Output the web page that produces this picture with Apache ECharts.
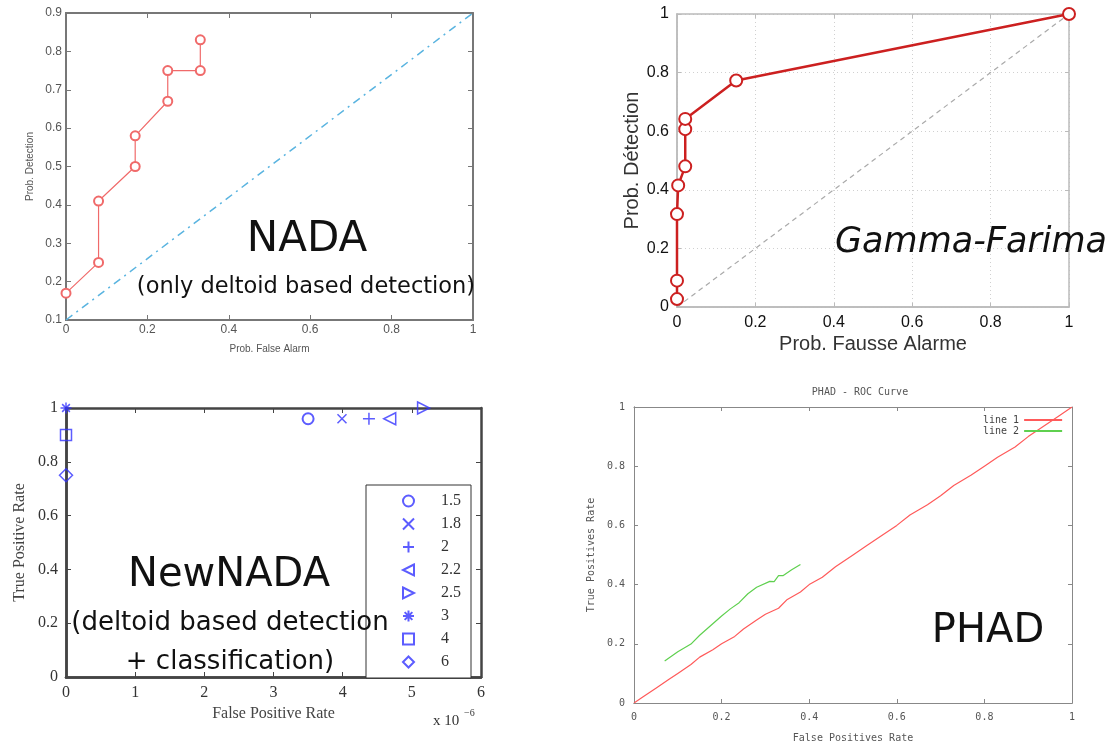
<!DOCTYPE html>
<html>
<head>
<meta charset="utf-8">
<script src="https://cdn.jsdelivr.net/npm/echarts@6/dist/echarts.min.js"></script>
<style>
  html, body { margin: 0; padding: 0; background: #fff; }
  #chart { width: 1119px; height: 744px; }
</style>
</head>
<body>
<div id="chart"></div>
<script>
// NADA (top-left)
const nadaFpr = [0, 0.08, 0.08, 0.17, 0.17, 0.25, 0.25, 0.33, 0.33];
const nadaTpr = [0.17, 0.25, 0.41, 0.5, 0.58, 0.67, 0.75, 0.75, 0.83];
const nadaRefX = [0, 1];
const nadaRefY = [0.1, 0.9];

// Gamma-Farima (top-right)
const gfFpr = [0, 0, 0, 0.003, 0.021, 0.021, 0.021, 0.151, 1];
const gfTpr = [0.027, 0.09, 0.317, 0.415, 0.48, 0.607, 0.642, 0.773, 1];
const gfRefX = [0, 1];
const gfRefY = [0, 1];

// NewNADA (bottom-left), x in units of 1e-6
const nnNames = ['1.5', '1.8', '2', '2.2', '2.5', '3', '4', '6'];
const nnFpr = [3.5, 3.99, 4.38, 4.68, 5.17, 0, 0, 0];
const nnTpr = [0.96, 0.96, 0.96, 0.96, 1.0, 1.0, 0.9, 0.75];

// PHAD (bottom-right)
const phad1X = [0, 0.02, 0.05, 0.08, 0.1, 0.13, 0.15, 0.18, 0.2, 0.23, 0.25, 0.28, 0.3, 0.33, 0.35, 0.38,
  0.4, 0.43, 0.46, 0.5, 0.53, 0.57, 0.6, 0.63, 0.67, 0.7, 0.73, 0.77, 0.8, 0.83, 0.87, 0.9, 0.93, 0.97, 1];
const phad1Y = [0, 0.02, 0.05, 0.08, 0.1, 0.13, 0.155, 0.18, 0.2, 0.225, 0.25, 0.28, 0.3, 0.32, 0.35, 0.375,
  0.4, 0.425, 0.46, 0.5, 0.53, 0.57, 0.6, 0.635, 0.67, 0.7, 0.735, 0.77, 0.8, 0.83, 0.865, 0.9, 0.93, 0.97, 1];
const phad2X = [0.07, 0.1, 0.13, 0.15, 0.2, 0.22, 0.24, 0.26, 0.28, 0.31, 0.32, 0.33, 0.34, 0.36, 0.38];
const phad2Y = [0.142, 0.173, 0.199, 0.229, 0.294, 0.318, 0.339, 0.369, 0.391, 0.411, 0.41, 0.43, 0.43, 0.45, 0.468];

const nnSymbols = [
  'emptyCircle',
  'path://M0,0L10,10M10,0L0,10',
  'path://M5,0L5,10M0,5L10,5',
  'path://M10,0L0,5L10,10Z',
  'path://M0,0L10,5L0,10Z',
  'path://M5,0L5,10M0,5L10,5M1.5,1.5L8.5,8.5M8.5,1.5L1.5,8.5',
  'path://M0,0L10,0L10,10L0,10Z',
  'path://M5,0L10,5L5,10L0,5Z'
];
const nnSizes = [11, 9, 12, 12, 12, 11, 11, 13];

const pairs = (xs, ys) => xs.map((x, i) => [x, ys[i]]);

const chart = echarts.init(document.getElementById('chart'));

// per grid: axis 0 = labelled data axis, 1 = same side ticks only, 2 = opposite side frame + ticks
function frameAxes(gi, cfg) {
  const line = { show: true, onZero: false, lineStyle: { color: cfg.frame, width: cfg.frameWidth } };
  const tick = { show: true, inside: true, length: cfg.tickLen, lineStyle: { color: cfg.frame, width: 1 } };
  const lab = { color: cfg.labelColor, fontSize: cfg.labelSize, fontFamily: cfg.font, margin: cfg.labelMargin };
  const nameStyle = { color: cfg.nameColor, fontSize: cfg.nameSize, fontFamily: cfg.font };
  const split = cfg.split ? { show: true, lineStyle: { color: '#d0d0d0', type: [1, 3] } } : { show: false };
  const plain = (dim, pos) => ({
    gridIndex: gi, type: 'value', position: pos,
    min: cfg[dim + 'Min'], max: cfg[dim + 'Max'], interval: cfg[dim + 'Int'],
    axisLine: line, axisTick: tick, axisLabel: { show: false }, splitLine: { show: false }
  });
  const main = (dim, pos) => Object.assign(plain(dim, pos), {
    axisTick: { show: false }, axisLabel: lab, splitLine: split,
    name: cfg[dim + 'Name'], nameLocation: 'middle', nameGap: cfg[dim + 'NameGap'], nameTextStyle: nameStyle
  });
  return {
    xs: [main('x', 'bottom'), plain('x', 'bottom'), plain('x', 'top')],
    ys: [main('y', 'left'), plain('y', 'left'), plain('y', 'right')]
  };
}

const panels = [
  frameAxes(0, { frame: '#777', frameWidth: 2, tickLen: 5, labelColor: '#555', labelSize: 12, font: 'Liberation Sans',
    labelMargin: 4, nameColor: '#555', nameSize: 10, xMin: 0, xMax: 1, xInt: 0.2, yMin: 0.1, yMax: 0.9, yInt: 0.1,
    xName: 'Prob. False Alarm', xNameGap: 24, yName: 'Prob. Detection', yNameGap: 31 }),
  frameAxes(1, { frame: '#bbb', frameWidth: 1.5, tickLen: 4, labelColor: '#111', labelSize: 16, font: 'Liberation Sans',
    labelMargin: 8, nameColor: '#333', nameSize: 20, xMin: 0, xMax: 1, xInt: 0.2, yMin: 0, yMax: 1, yInt: 0.2,
    split: true, xName: 'Prob. Fausse Alarme', xNameGap: 27, yName: 'Prob. Détection', yNameGap: 34 }),
  frameAxes(2, { frame: '#444', frameWidth: 2.5, tickLen: 5, labelColor: '#333', labelSize: 16, font: 'Liberation Serif',
    labelMargin: 8, nameColor: '#444', nameSize: 16, xMin: 0, xMax: 6, xInt: 1, yMin: 0, yMax: 1, yInt: 0.2,
    xName: 'False Positive Rate', xNameGap: 29, yName: 'True Positive Rate', yNameGap: 38 }),
  frameAxes(3, { frame: '#888', frameWidth: 1, tickLen: 4, labelColor: '#555', labelSize: 10, font: 'DejaVu Sans Mono',
    labelMargin: 9, nameColor: '#555', nameSize: 10, xMin: 0, xMax: 1, xInt: 0.2, yMin: 0, yMax: 1, yInt: 0.2,
    xName: 'False Positives Rate', xNameGap: 30, yName: 'True Positives Rate', yNameGap: 38 })
];

const xAxis = [].concat(...panels.map(p => p.xs));
const yAxis = [].concat(...panels.map(p => p.ys));
const ax = gi => ({ xAxisIndex: gi * 3, yAxisIndex: gi * 3 });

const series = [
  Object.assign({ type: 'line', data: pairs(nadaRefX, nadaRefY), symbol: 'none',
    lineStyle: { color: '#5ab4e0', width: 1.5, type: [8, 5, 2, 5] }, silent: true }, ax(0)),
  Object.assign({ type: 'line', data: pairs(nadaFpr, nadaTpr), symbol: 'emptyCircle',
    symbolSize: 9, clip: false, lineStyle: { color: '#f06a6a', width: 1.2 },
    itemStyle: { color: '#f06a6a', borderWidth: 1.5 } }, ax(0)),

  Object.assign({ type: 'line', data: pairs(gfRefX, gfRefY), symbol: 'none',
    lineStyle: { color: '#aaa', width: 1.2, type: [5, 4] }, silent: true }, ax(1)),
  Object.assign({ type: 'line', data: pairs(gfFpr, gfTpr), symbol: 'emptyCircle',
    symbolSize: 12, clip: false, lineStyle: { color: '#cc2020', width: 2.5 },
    itemStyle: { color: '#cc2020', borderWidth: 2 } }, ax(1)),

  ...nnNames.map((n, i) => Object.assign({
    type: 'scatter', name: n, data: [[nnFpr[i], nnTpr[i]]],
    symbol: nnSymbols[i], symbolSize: nnSizes[i], clip: false,
    itemStyle: { color: i === 0 ? '#3333ff' : 'rgba(0,0,0,0)', borderColor: '#3333ff', borderWidth: 1.5 }
  }, ax(2))),

  Object.assign({ type: 'line', name: 'line 1', data: pairs(phad1X, phad1Y), symbol: 'none',
    lineStyle: { color: '#ff5a5a', width: 1.2 }, itemStyle: { color: '#ff5a5a' } }, ax(3)),
  Object.assign({ type: 'line', name: 'line 2', data: pairs(phad2X, phad2Y), symbol: 'none',
    lineStyle: { color: '#5fd04f', width: 1.2 }, itemStyle: { color: '#5fd04f' } }, ax(3))
];

const bigFont = '"Comic Sans MS", "DejaVu Sans", sans-serif';
function txt(text, x, y, size, extra) {
  return { type: 'text', x: x, y: y, z: 100, silent: true,
    style: Object.assign({ text: text, fontSize: size, fontFamily: bigFont, fill: '#111',
      align: 'center', verticalAlign: 'middle' }, extra || {}) };
}

const option = {
  backgroundColor: '#fff',
  animation: false,
  title: [{
    text: 'PHAD - ROC Curve', left: 855, top: 382, textAlign: 'center',
    textStyle: { fontSize: 10, fontWeight: 'normal', color: '#555', fontFamily: 'DejaVu Sans Mono' }
  }],
  grid: [
    { left: 66, top: 13, width: 407, height: 307 },
    { left: 677, top: 14, width: 392, height: 293 },
    { left: 66, top: 408, width: 415, height: 269 },
    { left: 634, top: 407, width: 438, height: 298 }
  ],
  xAxis: xAxis,
  yAxis: yAxis,
  legend: [
    { data: nnNames, orient: 'vertical', left: 366, top: 485, width: 111,
      padding: [8, 10, 8, 36], itemWidth: 11, itemHeight: 11, itemGap: 7,
      borderColor: '#333', borderWidth: 1, backgroundColor: '#fff', selectedMode: false,
      textStyle: { fontFamily: 'Liberation Serif', fontSize: 16, color: '#333', padding: [0, 0, 0, 22] } },
    { data: ['line 1', 'line 2'], orient: 'vertical', left: 978, top: 410, align: 'right',
      icon: 'rect', itemWidth: 38, itemHeight: 2, itemGap: 1, selectedMode: false,
      textStyle: { fontFamily: 'DejaVu Sans Mono', fontSize: 10, color: '#444' } }
  ],
  graphic: [
    txt('NADA', 307, 240, 42),
    txt('(only deltoid based detection)', 306, 287, 22.5),
    txt('Gamma-Farima', 971, 243, 35, { fontStyle: 'italic' }),
    txt('NewNADA', 229, 576, 40),
    txt('(deltoid based detection', 230, 623, 26),
    txt('+ classification)', 230, 662, 26),
    txt('PHAD', 988, 632, 40),
    { type: 'text', x: 433, y: 714, silent: true,
      style: { text: 'x 10', fontSize: 15, fontFamily: 'Liberation Serif', fill: '#333' } },
    { type: 'text', x: 464, y: 708, silent: true,
      style: { text: '\u22126', fontSize: 10, fontFamily: 'Liberation Serif', fill: '#333' } }
  ],
  series: series
};

chart.setOption(option);
</script>
</body>
</html>
